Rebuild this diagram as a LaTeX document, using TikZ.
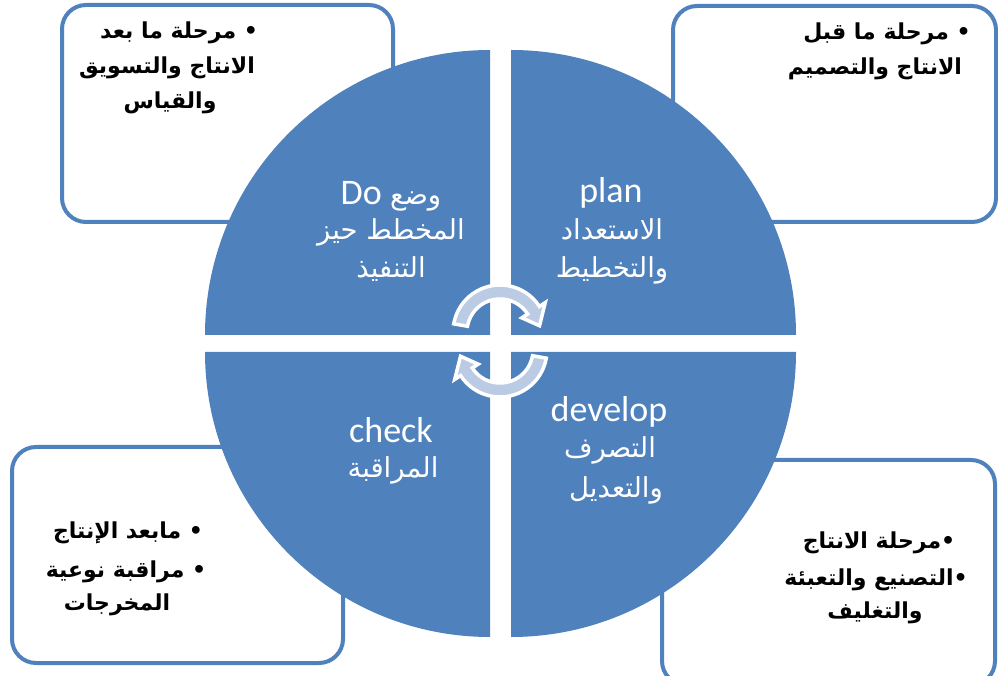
\documentclass[tikz,border=0pt]{standalone}
\usepackage{fontspec}
\setmainfont{Carlito}
\newfontfamily\arabicfont[Script=Arabic]{DejaVu Sans}
\TeXXeTstate=1
\definecolor{quad}{RGB}{79,129,189}
\definecolor{arrowfill}{RGB}{188,203,228}

\begin{document}
\begin{tikzpicture}[x=1pt,y=1pt,
  box/.style={draw=quad, line width=4pt, fill=white, rounded corners=24pt},
  quadrant/.style={fill=quad},
  cyclearrow/.style={draw=white, line width=3.5pt, fill=arrowfill, line join=miter},
  boxtext/.style={anchor=base, inner sep=0pt, text=black,
    font=\arabicfont\bfseries\fontsize{22}{26}\selectfont},
  quadlatin/.style={anchor=base, inner sep=0pt, text=white,
    font=\fontsize{36}{38}\selectfont},
  quadarabic/.style={anchor=base, inner sep=0pt, text=white,
    font=\arabicfont\fontsize{27.5}{30}\selectfont},
]
\useasboundingbox (0,0) rectangle (998,675);

% corner boxes behind the circle
\begin{scope}
  \clip (0,0) rectangle (998,675);
  \draw[box] (62,453) rectangle (393,670);
  \draw[box] (673,453) rectangle (996,669);
  \draw[box] (12,12) rectangle (343,228);
  \draw[box] (662,-10) rectangle (995,215);
\end{scope}

% four quarter discs around the central cross
\fill[quadrant] (490,340) -- ++(-285,0) arc[start angle=180, end angle=90, radius=285] -- cycle;
\fill[quadrant] (511,340) -- ++(0,285) arc[start angle=90, end angle=0, radius=285] -- cycle;
\fill[quadrant] (490,323) -- ++(-285,0) arc[start angle=180, end angle=270, radius=285] -- cycle;
\fill[quadrant] (511,323) -- ++(285,0) arc[start angle=0, end angle=-90, radius=285] -- cycle;

% circular arrows in the middle
\path[cyclearrow] ([shift={(500,343)}]170:47) arc[start angle=170, end angle=33, radius=47]
  -- ([shift={(500,343)}]33:54) -- ([shift={(500,343)}]9:40)
  -- ([shift={(500,343)}]33:26) -- ([shift={(500,343)}]33:33)
  arc[start angle=33, end angle=170, radius=33] -- cycle;
\path[cyclearrow] ([shift={(500,325)}]-10:47) arc[start angle=-10, end angle=-147, radius=47]
  -- ([shift={(500,325)}]-147:54) -- ([shift={(500,325)}]-171:40)
  -- ([shift={(500,325)}]-147:26) -- ([shift={(500,325)}]-147:33)
  arc[start angle=-147, end angle=-10, radius=33] -- cycle;

% quadrant labels
\node[quadlatin] (doA) at (391,470) {\beginR{\arabicfont\fontsize{27.5}{30}\selectfont وضع} \beginL Do\endL\endR};
\node[quadarabic] (doB) at (391,435) {\beginR المخطط حيز\endR};
\node[quadarabic] (doC) at (391,397) {\beginR التنفيذ\endR};

\node[quadlatin] (planA) at (611,472) {plan};
\node[quadarabic] (planB) at (612,435) {\beginR الاستعداد\endR};
\node[quadarabic] (planC) at (612,397) {\beginR والتخطيط\endR};

\node[quadlatin] (devA) at (609,253) {develop};
\node[quadarabic] (devB) at (610,217) {\beginR التصرف\endR};
\node[quadarabic] (devC) at (616,178) {\beginR والتعديل\endR};

\node[quadlatin] (chkA) at (391,232) {check};
\node[quadarabic] (chkB) at (393,197) {\beginR المراقبة\endR};

% box texts
\node[boxtext] (tlA) at (179,636) {\beginR • مرحلة ما بعد\endR};
\node[boxtext] (tlB) at (167,601) {\beginR الانتاج والتسويق\endR};
\node[boxtext] (tlC) at (170,566) {\beginR والقياس\endR};

\node[boxtext] (trA) at (887,635) {\beginR • مرحلة ما قبل\endR};
\node[boxtext] (trB) at (875,600) {\beginR الانتاج والتصميم\endR};

\node[boxtext] (blA) at (128,137) {\beginR • مابعد الإنتاج\endR};
\node[boxtext] (blB) at (126,98) {\beginR • مراقبة نوعية\endR};
\node[boxtext] (blC) at (117,65) {\beginR المخرجات\endR};

\node[boxtext] (brA) at (879,127) {\beginR •مرحلة الانتاج\endR};
\node[boxtext] (brB) at (876,90) {\beginR •التصنيع والتعبئة\endR};
\node[boxtext] (brC) at (875,57) {\beginR والتغليف\endR};
\end{tikzpicture}
\end{document}
